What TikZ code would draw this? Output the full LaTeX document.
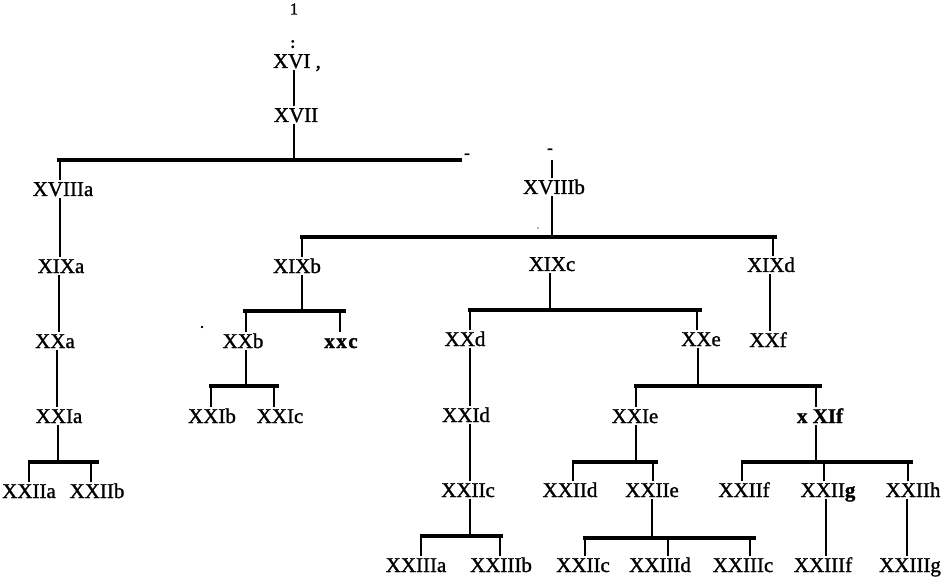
\documentclass[tikz,border=0pt]{standalone}
\usepackage{fontspec}
\setmainfont{Liberation Serif}
\newfontfamily\heavyserif[FakeBold=1.2]{Liberation Serif}
\newcommand\lbfont{\heavyserif\fontsize{21}{21}\selectfont}
\newcommand\smfont{\heavyserif\fontsize{17}{17}\selectfont}
\begin{document}
\begin{tikzpicture}[x=1pt,y=-1pt,
  lbl/.style={font=\lbfont, inner sep=1.5pt, text height=14pt, text depth=0pt},
  tinytext/.style={font=\smfont, inner sep=0pt},
  barline/.style={line width=3.3pt},
  stemline/.style={line width=2pt}]
\useasboundingbox (0,0) rectangle (942,577);
% texts
\node[tinytext,font=\heavyserif\fontsize{16.5}{16.5}\selectfont] (one) at (294,9) {1};
\node[tinytext,font=\bfseries\fontsize{17}{17}\selectfont] (colon) at (293,45) {:};
\node[tinytext] (dash1) at (467,156) {-};
\node[tinytext] (dash2) at (550,151) {-};
\node[tinytext] (dot1) at (202,327) {.};
\node[tinytext,font=\fontsize{8}{8}\selectfont] (comma1) at (538,229) {,};
\node[lbl] (XVI) at (297,61) {XVI ,};
\node[lbl] (XVII) at (296,115) {XVII};
\node[lbl] (XVIIIa) at (63,189) {XVIIIa};
\node[lbl] (XVIIIb) at (554,187) {XVIIIb};
\node[lbl] (XIXa) at (61,266) {XIXa};
\node[lbl] (XIXb) at (297,266) {XIXb};
\node[lbl] (XIXc) at (552,264) {XIXc};
\node[lbl] (XIXd) at (771,265) {XIXd};
\node[lbl] (XXa) at (55,341) {XXa};
\node[lbl] (XXb) at (243,341) {XXb};
\node[lbl,font=\lbfont\bfseries] (xxc) at (341,341) {x\kern1.5pt x\kern1.5pt c};
\node[lbl] (XXd) at (465,339) {XXd};
\node[lbl] (XXe) at (701,339) {XXe};
\node[lbl] (XXf) at (768,340) {XXf};
\node[lbl] (XXIa) at (59,416) {XXIa};
\node[lbl] (XXIb) at (212,416) {XXIb};
\node[lbl] (XXIc) at (280,416) {XXIc};
\node[lbl] (XXId) at (466,415) {XXId};
\node[lbl] (XXIe) at (635,416) {XXIe};
\node[lbl,font=\lbfont\bfseries] (xXIf) at (820,416) {x XIf};
\node[lbl] (XXIIa) at (29,491) {XXIIa};
\node[lbl] (XXIIb) at (97,491) {XXIIb};
\node[lbl] (XXIIcL) at (468,490) {XXIIc};
\node[lbl] (XXIId) at (570,490) {XXIId};
\node[lbl] (XXIIe) at (652,490) {XXIIe};
\node[lbl] (XXIIf) at (744,490) {XXIIf};
\node[lbl] (XXIIg) at (828,490) {XXII\textbf{g}};
\node[lbl] (XXIIh) at (913,490) {XXIIh};
\node[lbl] (XXIIIa) at (416,565) {XXIIIa};
\node[lbl] (XXIIIb) at (501,565) {XXIIIb};
\node[lbl] (XXIIcR) at (583,565) {XXIIc};
\node[lbl] (XXIIId) at (660,565) {XXIIId};
\node[lbl] (XXIIIc) at (743,565) {XXIIIc};
\node[lbl] (XXIIIf) at (823,565) {XXIIIf};
\node[lbl] (XXIIIg) at (910,565) {XXIIIg};
% bar coordinates
\coordinate (b0l) at (57,160);  \coordinate (b0r) at (462,160);
\coordinate (b1l) at (300,237); \coordinate (b1r) at (777,237);
\coordinate (b2l) at (243,311); \coordinate (b2r) at (346,311);
\coordinate (b3l) at (468,310); \coordinate (b3r) at (702,310);
\coordinate (b4l) at (28,462);  \coordinate (b4r) at (99,462);
\coordinate (b5l) at (209,386); \coordinate (b5r) at (279,386);
\coordinate (b6l) at (634,386); \coordinate (b6r) at (822,386);
\coordinate (b7l) at (572,462); \coordinate (b7r) at (658,462);
\coordinate (b8l) at (741,462); \coordinate (b8r) at (913,462);
\coordinate (b9l) at (420,536); \coordinate (b9r) at (503,536);
\coordinate (b10l) at (583,538); \coordinate (b10r) at (756,538);
\foreach \b in {0,...,10} {\draw[barline] (b\b l) -- (b\b r);}
% single-line links
\draw[stemline] ([xshift=-2pt]XVII.north) -- ([xshift=-2pt]XVII.north |- XVI.south);
\draw[stemline] ([xshift=-3pt]XVIIIa.south) -- ([xshift=-3pt]XVIIIa.south |- XIXa.north);
\draw[stemline] ([xshift=-2pt]XIXa.south) -- ([xshift=-2pt]XIXa.south |- XXa.north);
\draw[stemline] ([xshift=2pt]XXa.south) -- ([xshift=2pt]XXa.south |- XXIa.north);
\draw[stemline] ([xshift=-1pt]XIXd.south) -- ([xshift=-1pt]XIXd.south |- XXf.north);
\draw[stemline] ([xshift=5pt]XXd.south) -- ([xshift=5pt]XXd.south |- XXId.north);
\draw[stemline] ([xshift=4pt]XXId.south) -- ([xshift=4pt]XXId.south |- XXIIcL.north);
\draw[stemline] ([xshift=-2pt]XXIIg.south) -- ([xshift=-2pt]XXIIg.south |- XXIIIf.north);
\draw[stemline] ([xshift=-6pt]XXIIh.south) -- ([xshift=-6pt]XXIIh.south |- XXIIIg.north);
% parent stems to bars
\draw[stemline] ([xshift=-2pt]XVII.south) -- ([xshift=-2pt]XVII.south |- b0l);
\draw[stemline] ([xshift=-2pt]XVIIIb.south) -- ([xshift=-2pt]XVIIIb.south |- b1l);
\draw[stemline] ([xshift=5pt]XIXb.south) -- ([xshift=5pt]XIXb.south |- b2l);
\draw[stemline] ([xshift=-2pt]XIXc.south) -- ([xshift=-2pt]XIXc.south |- b3l);
\draw[stemline] ([xshift=-1pt]XXIa.south) -- ([xshift=-1pt]XXIa.south |- b4l);
\draw[stemline] ([xshift=3pt]XXb.south) -- ([xshift=3pt]XXb.south |- b5l);
\draw[stemline] ([xshift=-3pt]XXe.south) -- ([xshift=-3pt]XXe.south |- b6l);
\draw[stemline] ([xshift=1pt]XXIe.south) -- ([xshift=1pt]XXIe.south |- b7l);
\draw[stemline] ([xshift=-4pt]xXIf.south) -- ([xshift=-4pt]xXIf.south |- b8l);
\draw[stemline] ([xshift=2pt]XXIIcL.south) -- ([xshift=2pt]XXIIcL.south |- b9l);
\draw[stemline] (XXIIe.south) -- (XXIIe.south |- b10l);
% child stems from bars
\draw[stemline] ([xshift=-3pt]XVIIIa.north) -- ([xshift=-3pt]XVIIIa.north |- b0l);
\draw[stemline] ([xshift=-2pt]XVIIIb.north) -- ([xshift=-2pt]XVIIIb.north |- b0l);
\draw[stemline] ([xshift=5pt]XIXb.north) -- ([xshift=5pt]XIXb.north |- b1l);
\draw[stemline] ([xshift=2pt]XIXd.north) -- ([xshift=2pt]XIXd.north |- b1l);
\draw[stemline] ([xshift=3pt]XXb.north) -- ([xshift=3pt]XXb.north |- b2l);
\draw[stemline] ([xshift=-1pt]xxc.north) -- ([xshift=-1pt]xxc.north |- b2l);
\draw[stemline] ([xshift=5pt]XXd.north) -- ([xshift=5pt]XXd.north |- b3l);
\draw[stemline] ([xshift=-4pt]XXe.north) -- ([xshift=-4pt]XXe.north |- b3l);
\draw[stemline] (XXIIa.north) -- (XXIIa.north |- b4l);
\draw[stemline] ([xshift=-6pt]XXIIb.north) -- ([xshift=-6pt]XXIIb.north |- b4l);
\draw[stemline] ([xshift=-1pt]XXIb.north) -- ([xshift=-1pt]XXIb.north |- b5l);
\draw[stemline] ([xshift=-6pt]XXIc.north) -- ([xshift=-6pt]XXIc.north |- b5l);
\draw[stemline] ([xshift=1pt]XXIe.north) -- ([xshift=1pt]XXIe.north |- b6l);
\draw[stemline] ([xshift=-4pt]xXIf.north) -- ([xshift=-4pt]xXIf.north |- b6l);
\draw[stemline] ([xshift=3pt]XXIId.north) -- ([xshift=3pt]XXIId.north |- b7l);
\draw[stemline] ([xshift=1pt]XXIIe.north) -- ([xshift=1pt]XXIIe.north |- b7l);
\draw[stemline] ([xshift=-2pt]XXIIf.north) -- ([xshift=-2pt]XXIIf.north |- b8l);
\draw[stemline] ([xshift=-4pt]XXIIg.north) -- ([xshift=-4pt]XXIIg.north |- b8l);
\draw[stemline] ([xshift=-5pt]XXIIh.north) -- ([xshift=-5pt]XXIIh.north |- b8l);
\draw[stemline] ([xshift=5pt]XXIIIa.north) -- ([xshift=5pt]XXIIIa.north |- b9l);
\draw[stemline] ([xshift=-1pt]XXIIIb.north) -- ([xshift=-1pt]XXIIIb.north |- b9l);
\draw[stemline] ([xshift=2pt]XXIIcR.north) -- ([xshift=2pt]XXIIcR.north |- b10l);
\draw[stemline] ([xshift=8pt]XXIIId.north) -- ([xshift=8pt]XXIIId.north |- b10l);
\draw[stemline] ([xshift=7pt]XXIIIc.north) -- ([xshift=7pt]XXIIIc.north |- b10l);
\end{tikzpicture}
\end{document}
